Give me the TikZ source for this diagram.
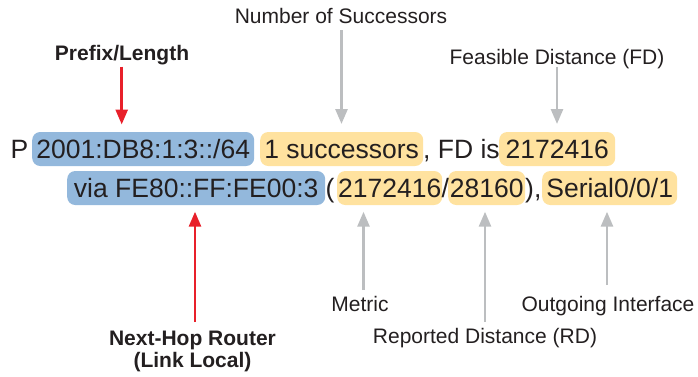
\documentclass[tikz,border=0pt]{standalone}
\usepackage{fontspec}
\setmainfont{Liberation Sans}
\usetikzlibrary{arrows.meta}
\definecolor{txtc}{HTML}{231F20}
\definecolor{hlblue}{HTML}{93B8DC}
\definecolor{hlyellow}{HTML}{FFE29F}
\definecolor{arrred}{HTML}{E8202A}
\definecolor{arrgray}{HTML}{BCBEC0}
\tikzset{
  maintxt/.style={inner sep=0pt, anchor=base west, text=txtc, font=\fontsize{26.5}{30}\selectfont},
  hlbox/.style={maintxt, rounded corners=8pt, text height=26pt, text depth=8pt},
  hlb/.style={hlbox, fill=hlblue},
  hly/.style={hlbox, fill=hlyellow},
  lab/.style={inner sep=0pt, anchor=base, text=txtc, font=\fontsize{21}{25}\selectfont},
  blab/.style={lab, font=\fontsize{21}{25}\selectfont\bfseries},
  rarrow/.style={draw=arrred, line width=2.7pt, -{Triangle[length=15pt,width=12pt]}, arrred},
  garrow/.style={draw=arrgray, line width=2.7pt, -{Triangle[length=15pt,width=12pt]}, arrgray},
}
\begin{document}
\begin{tikzpicture}[x=1pt,y=-1pt]
\useasboundingbox (0,0) rectangle (698,376);
% highlighted boxes
\node[hlb, minimum width=222pt] (pre) at (32,158) {2001:DB8:1:3::/64};
\node[hly, minimum width=163pt] (succ) at (260,158) {1 successors};
\node[hly, minimum width=116pt] (fd) at (499,158) {2172416};
\node[hlb, minimum width=258pt] (via) at (67,197) {via FE80::FF:FE00:3};
\node[hly, minimum width=105pt] (met) at (337,197) {2172416};
\node[hly, minimum width=77pt] (rd) at (448,197) {28160};
\node[hly, minimum width=135pt] (intf) at (542,197) {Serial0/0/1};
% plain text
\node[maintxt] (p) at (10.5,158) {P};
\node[maintxt] (fdis) at (423,158) {, FD is};
\node[maintxt] (lp) at (325.5,197) {(};
\node[maintxt] (sl) at (441.5,197) {/};
\node[maintxt] (rp) at (525,197) {),};
% labels
\node[blab] (lpre) at (122,60) {Prefix/Length};
\node[lab] (lnum) at (341,23.5) {Number of Successors};
\node[lab] (lfd) at (557,64) {Feasible Distance (FD)};
\node[lab] (lmet) at (360,311) {Metric};
\node[lab] (lrd) at (485,343) {Reported Distance (RD)};
\node[lab] (lout) at (608,311) {Outgoing Interface};
\node[blab] (lnh1) at (192.5,345) {Next-Hop Router};
\node[blab] (lnh2) at (192.5,367) {(Link Local)};
% arrow end points
\coordinate (s1) at (121.7,66.5); \coordinate (t1) at (121.7,124.5);
\coordinate (s2) at (341.5,30);   \coordinate (t2) at (341.5,124);
\coordinate (s3) at (557,66.5);   \coordinate (t3) at (557,124);
\coordinate (s4) at (195,322);    \coordinate (t4) at (195,211.7);
\coordinate (s5) at (363.5,290);  \coordinate (t5) at (363.5,211.7);
\coordinate (s6) at (485,322);    \coordinate (t6) at (485,211.7);
\coordinate (s7) at (607,285);    \coordinate (t7) at (607,211.7);
\draw[rarrow] (s1) -- (t1);
\draw[garrow] (s2) -- (t2);
\draw[garrow] (s3) -- (t3);
\draw[rarrow] (s4) -- (t4);
\draw[garrow] (s5) -- (t5);
\draw[garrow] (s6) -- (t6);
\draw[garrow] (s7) -- (t7);
\end{tikzpicture}
\end{document}
